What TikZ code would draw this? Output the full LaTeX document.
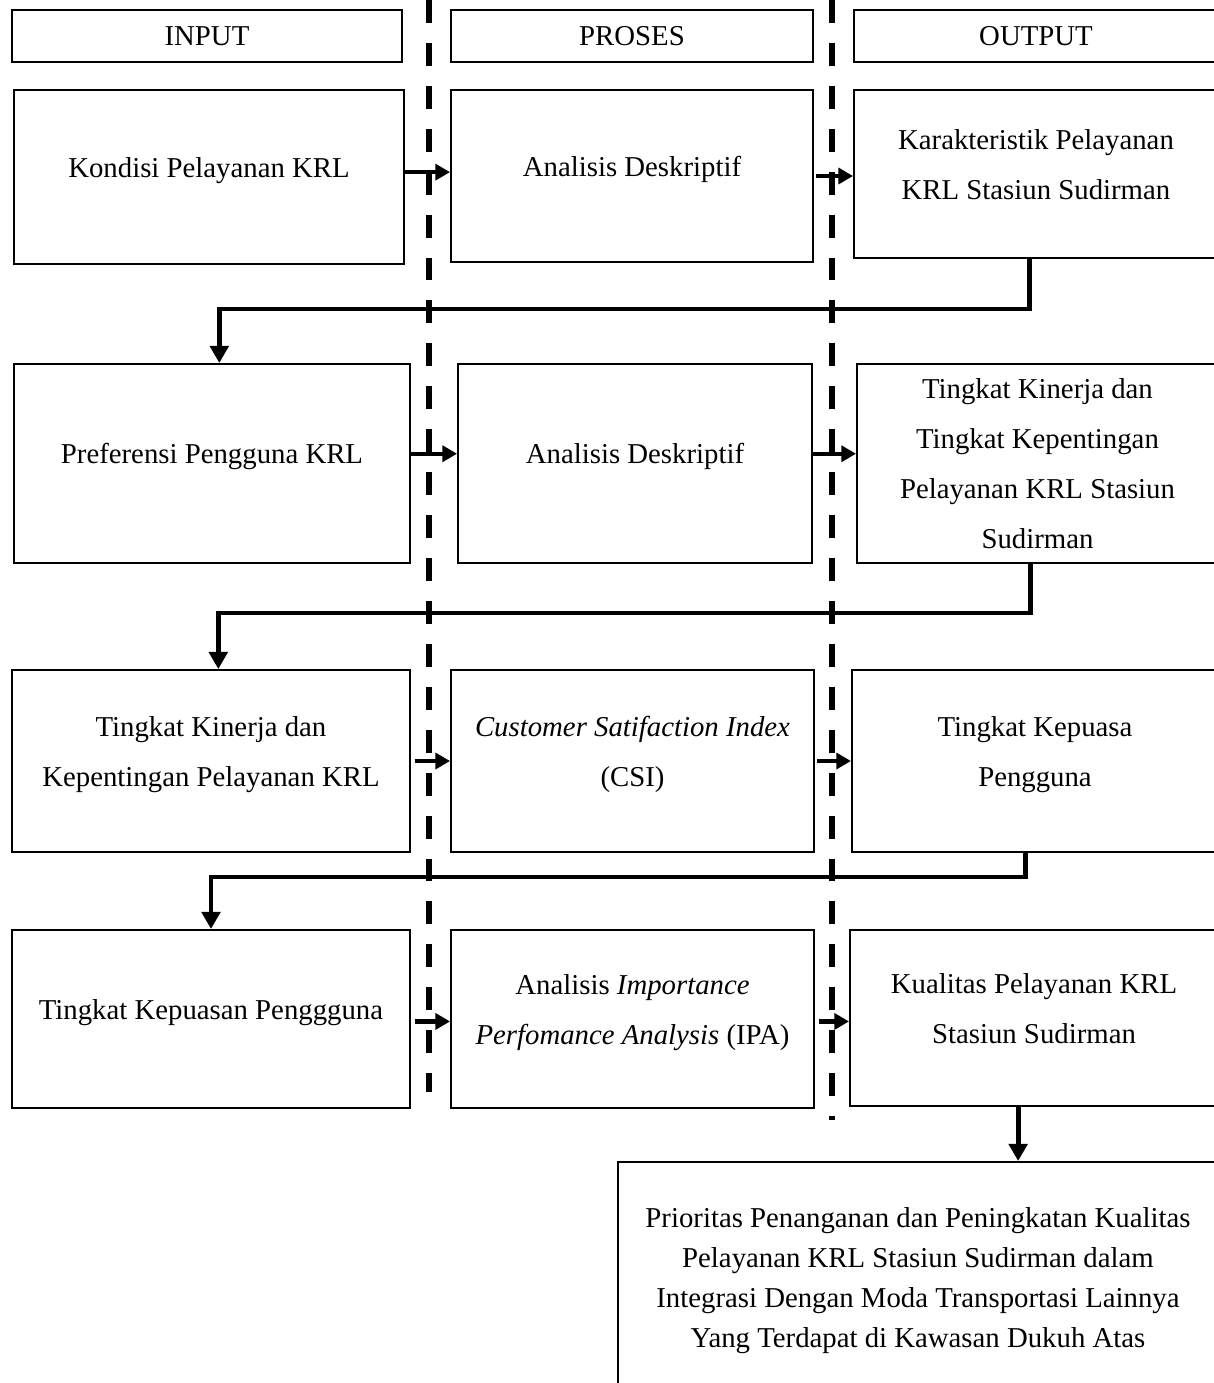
\documentclass[tikz,border=0pt]{standalone}
\usepackage{fontspec}
\setmainfont{Liberation Serif}
\usetikzlibrary{arrows.meta}

\tikzset{
  box/.style={draw=black, line width=0.8pt, align=center, inner sep=2pt,
    font=\fontsize{11.8}{20.5}\selectfont},
  stepbox/.style={box, text depth=8pt},
  flow/.style={line width=1.8pt, -{Triangle[length=6pt,width=6.5pt]}},
  link/.style={line width=2pt, -{Triangle[length=7pt,width=7.5pt]}},
  divider/.style={line width=2.5pt, dash pattern=on 9.4pt off 8.2pt},
}

\begin{document}
\begin{tikzpicture}[x=0.41pt, y=-0.41pt]

\useasboundingbox (0,0) rectangle (1213,1383);

\node [box, minimum width=159.9pt, minimum height=21.3pt] (hin) at (207,36) {INPUT};
\node [box, minimum width=148.4pt, minimum height=21.3pt] (hpr) at (632,36) {PROSES};
\node [box, minimum width=149.2pt, minimum height=21.3pt] (hout) at (1036,36) {OUTPUT};

\node [stepbox, minimum width=159.9pt, minimum height=71.3pt] (in1) at (209,177) {Kondisi Pelayanan KRL};
\node [stepbox, minimum width=148.4pt, minimum height=70.5pt] (pr1) at (632,176) {Analisis Deskriptif};
\node [stepbox, minimum width=149.2pt, minimum height=68.9pt] (out1) at (1036,174) {Karakteristik Pelayanan\\KRL Stasiun Sudirman};

\node [stepbox, minimum width=162.4pt, minimum height=81.6pt] (in2) at (212,463.5) {Preferensi Pengguna KRL};
\node [stepbox, minimum width=145.1pt, minimum height=81.6pt] (pr2) at (635,463.5) {Analisis Deskriptif};
\node [box, minimum width=148.0pt, minimum height=81.6pt] (out2) at (1037.5,463.5) {Tingkat Kinerja dan\\Tingkat Kepentingan\\Pelayanan KRL Stasiun\\Sudirman};

\node [stepbox, minimum width=163.2pt, minimum height=74.6pt] (in3) at (211,761) {Tingkat Kinerja dan\\Kepentingan Pelayanan KRL};
\node [stepbox, minimum width=148.8pt, minimum height=74.6pt] (pr3) at (632.5,761) {\textit{Customer Satifaction Index}\\(CSI)};
\node [stepbox, minimum width=150.1pt, minimum height=74.6pt] (out3) at (1035,761) {Tingkat Kepuasa\\Pengguna};

\node [stepbox, minimum width=163.2pt, minimum height=73.0pt] (in4) at (211,1019) {Tingkat Kepuasan Penggguna};
\node [stepbox, minimum width=148.8pt, minimum height=73.0pt] (pr4) at (632.5,1019) {Analisis \textit{Importance}\\\textit{Perfomance Analysis} (IPA)};
\node [stepbox, minimum width=150.9pt, minimum height=72.2pt] (out4) at (1034,1018) {Kualitas Pelayanan KRL\\Stasiun Sudirman};

\node [box, minimum width=246pt, minimum height=97.6pt, font=\fontsize{11.8}{16.4}\selectfont] (prio) at (918,1281) {Prioritas Penanganan dan Peningkatan Kualitas\\Pelayanan KRL Stasiun Sudirman dalam\\Integrasi Dengan Moda Transportasi Lainnya\\Yang Terdapat di Kawasan Dukuh Atas};

\coordinate (d1a) at (429,0);
\coordinate (d1b) at (429,1092);
\coordinate (d2a) at (832,0);
\coordinate (d2b) at (832,1120);
\draw [divider] (d1a) -- (d1b);
\draw [divider] (d2a) -- (d2b);

\draw [flow] ([yshift=2pt]in1.east) -- ([yshift=2pt]in1.east -| pr1.west);
\draw [flow] ([xshift=1pt]pr1.east) -- (pr1.east -| out1.west);
\draw [flow] ([yshift=4pt]in2.east) -- ([yshift=4pt]in2.east -| pr2.west);
\draw [flow] ([yshift=4pt]pr2.east) -- ([yshift=4pt]pr2.east -| out2.west);
\draw [flow] ([xshift=1.5pt]in3.east) -- (in3.east -| pr3.west);
\draw [flow] ([xshift=1pt]pr3.east) -- (pr3.east -| out3.west);
\draw [flow] ([xshift=1.5pt,yshift=-1pt]in4.east) -- ([yshift=-1pt]in4.east -| pr4.west);
\draw [flow] ([xshift=1.5pt,yshift=-1pt]pr4.east) -- ([yshift=-1pt]pr4.east -| out4.west);

\draw [link] ([xshift=-2.5pt]out1.south) -- ++(0,50) -| ([xshift=3pt]in2.north);
\draw [link] ([xshift=-3pt]out2.south) -- ++(0,49) -| ([xshift=3pt]in3.north);
\draw [link] ([xshift=-4pt]out3.south) -- ++(0,24) -| (in4.north);
\draw [link] ([xshift=-6.5pt]out4.south) -- ([xshift=-6.5pt]out4.south |- prio.north);

\end{tikzpicture}
\end{document}
